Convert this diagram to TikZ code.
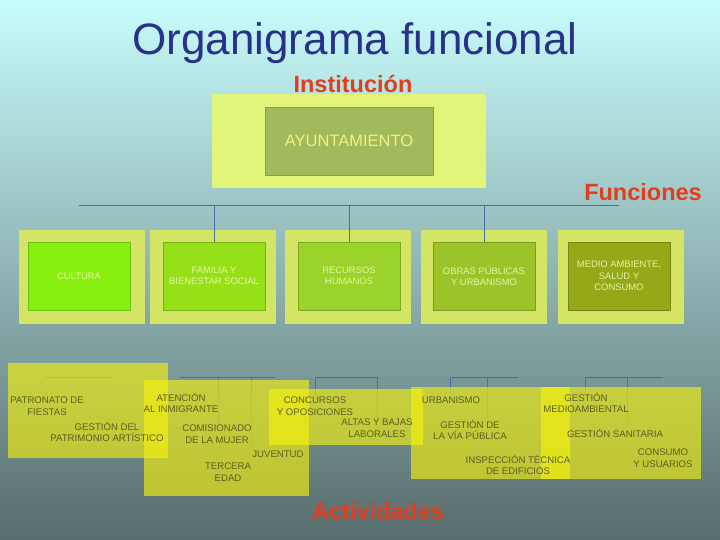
\documentclass[tikz,border=0pt]{standalone}
\usepackage{fontspec}
\setmainfont{Liberation Sans}
\usepackage{tikz}

\pgfdeclarelayer{fondo}
\pgfdeclarelayer{cables}
\pgfsetlayers{fondo,cables,main}

\definecolor{cielo}{RGB}{200,252,252}
\definecolor{medio}{RGB}{150,195,202}
\definecolor{suelo}{RGB}{88,108,108}
\definecolor{azultitulo}{RGB}{40,50,140}
\definecolor{rojorotulo}{RGB}{226,62,30}
\definecolor{amarillopalido}{RGB}{225,245,122}
\definecolor{oliva}{RGB}{162,186,92}
\definecolor{marcoverde}{RGB}{212,228,100}
\definecolor{verdeuno}{RGB}{136,240,16}
\definecolor{verdedos}{RGB}{150,224,26}
\definecolor{verdetres}{RGB}{154,212,42}
\definecolor{verdecuatro}{RGB}{156,196,42}
\definecolor{verdecinco}{RGB}{148,168,24}
\definecolor{textoclaro}{RGB}{228,246,160}
\definecolor{amarillozona}{RGB}{245,242,13}
\definecolor{textooscuro}{RGB}{92,94,30}
\definecolor{azullinea}{RGB}{70,110,170}

\tikzset{
  rotulo/.style={text=rojorotulo, font=\bfseries\fontsize{23.5}{26}\selectfont, inner sep=0pt},
  marco/.style={fill=marcoverde, minimum width=126pt, minimum height=94pt, inner sep=0pt},
  funcion/.style={draw=#1!80!black, fill=#1, line width=0.6pt, minimum width=102pt,
    minimum height=68pt, inner sep=0pt, align=center, text=textoclaro,
    font=\fontsize{9.4}{11.5}\selectfont},
  zona/.style={fill=amarillozona, fill opacity=0.63, inner sep=0pt},
  tarea/.style={align=center, text=textooscuro, inner sep=1pt,
    font=\fontsize{9.6}{11.5}\selectfont},
  linea/.style={draw=azullinea, line width=0.8pt}
}

\begin{document}
\begin{tikzpicture}[x=1pt, y=1pt]
  \useasboundingbox (0,0) rectangle (720,-540);
  \begin{pgfonlayer}{fondo}
    \shade[top color=cielo, middle color=medio, bottom color=suelo] (0,0) rectangle (720,-540);
  \end{pgfonlayer}

  % titulo y rotulos
  \node[anchor=base, text=azultitulo, font=\fontsize{44}{50}\selectfont, inner sep=0pt] (titulo) at (355,-55) {Organigrama funcional};
  \node[rotulo, anchor=base] (institucion) at (353,-93) {Institución};
  \node[rotulo, anchor=base] (funciones) at (643,-201) {Funciones};
  \node[rotulo, anchor=base] (actividades) at (378,-519) {Actividades};

  % institucion
  \node[fill=amarillopalido, minimum width=274pt, minimum height=94pt, inner sep=0pt] (ayuntmarco) at (349,-141) {};
  \node[draw=oliva!85!black, fill=oliva, line width=0.6pt, minimum width=168pt, minimum height=68pt,
    text={rgb,255:red,240;green,240;blue,135}, font=\fontsize{16.5}{19}\selectfont] (ayunt) at (349,-141) {AYUNTAMIENTO};

  % funciones
  \node[marco] (marcocultura) at (82,-277) {};
  \node[marco] (marcofamilia) at (213,-277) {};
  \node[marco] (marcorrhh) at (348,-277) {};
  \node[marco] (marcoobras) at (484,-277) {};
  \node[marco] (marcomedio) at (621,-277) {};

  \coordinate (busizq) at (79,-205);
  \coordinate (busder) at (619,-205);
  \draw[linea] (busizq) -- (busder);

  \node[funcion=verdeuno] (cultura) at (79,-276) {CULTURA};
  \node[funcion=verdedos] (familia) at (214,-276) {FAMILIA Y\\BIENESTAR SOCIAL};
  \node[funcion=verdetres] (rrhh) at (349,-276) {RECURSOS\\HUMANOS};
  \node[funcion=verdecuatro] (obras) at (484,-276) {OBRAS PÚBLICAS\\Y URBANISMO};
  \node[funcion=verdecinco] (medio) at (619,-276) {MEDIO AMBIENTE,\\SALUD Y\\CONSUMO};

  \draw[linea] (familia.north |- busizq) -- (familia.north);
  \draw[linea] (rrhh.north |- busizq) -- (rrhh.north);
  \draw[linea] (obras.north |- busizq) -- (obras.north);

  % actividades
  \node[zona, minimum width=160pt, minimum height=95pt] (zonacultura) at (88,-410.5) {};
  \node[zona, minimum width=165pt, minimum height=116pt] (zonafamilia) at (226.5,-438) {};
  \node[zona, minimum width=154pt, minimum height=56pt] (zonarrhh) at (346,-417) {};
  \node[zona, minimum width=159pt, minimum height=92pt] (zonaobras) at (490.5,-433) {};
  \node[zona, minimum width=160pt, minimum height=92pt] (zonamedio) at (621,-433) {};

  \node[tarea] (patronato) at (47,-406) {PATRONATO DE\\FIESTAS};
  \node[tarea] (patrimonio) at (107,-432) {GESTIÓN DEL\\PATRIMONIO ARTÍSTICO};
  \node[tarea] (inmigrante) at (181,-403) {ATENCIÓN\\AL INMIGRANTE};
  \node[tarea] (comisionado) at (217,-434) {COMISIONADO\\DE LA MUJER};
  \node[tarea] (juventud) at (278,-454) {JUVENTUD};
  \node[tarea] (tercera) at (228,-472) {TERCERA\\EDAD};
  \node[tarea] (concursos) at (315,-406) {CONCURSOS\\Y OPOSICIONES};
  \node[tarea] (altas) at (377,-428) {ALTAS Y BAJAS\\LABORALES};
  \node[tarea] (urbanismo) at (451,-400) {URBANISMO};
  \node[tarea] (via) at (470,-430) {GESTIÓN DE\\LA VÍA PÚBLICA};
  \node[tarea] (inspeccion) at (518,-465) {INSPECCIÓN TÉCNICA\\DE EDIFICIOS};
  \node[tarea] (medioamb) at (586,-403) {GESTIÓN\\MEDIOAMBIENTAL};
  \node[tarea] (sanitaria) at (615,-433) {GESTIÓN SANITARIA};
  \node[tarea] (consumo) at (663,-458) {CONSUMO\\Y USUARIOS};

  % lineas de actividades, debajo de las zonas
  \begin{pgfonlayer}{cables}
    \coordinate (cula) at (45,-377);
    \coordinate (culb) at (112,-377);
    \draw[linea] (cula) -- (culb);

    \coordinate (fama) at (180,-377);
    \coordinate (famb) at (218,-377);
    \coordinate (famc) at (251,-377);
    \coordinate (famd) at (275,-377);
    \draw[linea] (fama) -- (famd);
    \draw[linea] (famb) -- (famb |- comisionado.north);
    \draw[linea] (famc) -- (famc |- juventud.north);

    \coordinate (rrhha) at (315,-377);
    \coordinate (rrhhb) at (377,-377);
    \draw[linea] (rrhha) -- (rrhhb);
    \draw[linea] (rrhha) -- (rrhha |- concursos.north);
    \draw[linea] (rrhhb) -- (rrhhb |- altas.north);

    \coordinate (obrasa) at (450,-377);
    \coordinate (obrasb) at (487,-377);
    \coordinate (obrasc) at (518,-377);
    \draw[linea] (obrasa) -- (obrasc);
    \draw[linea] (obrasa) -- (obrasa |- urbanismo.north);
    \draw[linea] (obrasb) -- (obrasb |- via.north);

    \coordinate (medioa) at (585,-377);
    \coordinate (mediob) at (627,-377);
    \coordinate (medioc) at (663,-377);
    \draw[linea] (medioa) -- (medioc);
    \draw[linea] (medioa) -- (medioa |- medioamb.north);
    \draw[linea] (mediob) -- (mediob |- sanitaria.north);
  \end{pgfonlayer}
\end{tikzpicture}
\end{document}
